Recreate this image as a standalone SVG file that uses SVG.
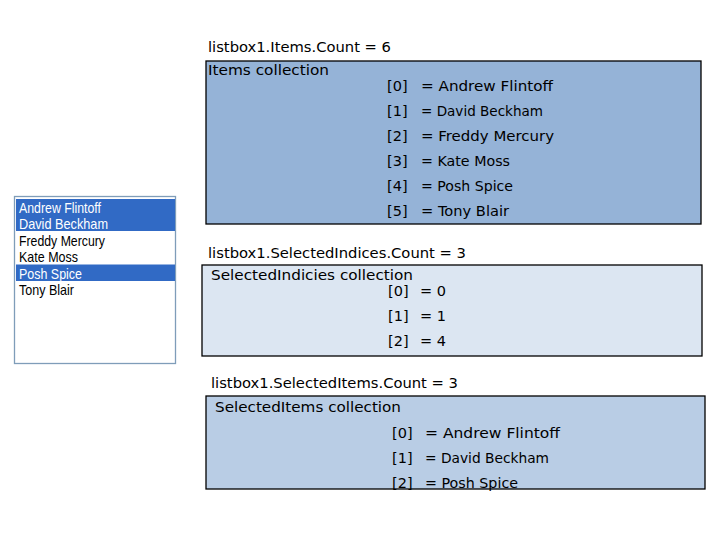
<svg xmlns="http://www.w3.org/2000/svg" width="720" height="540" viewBox="0 0 720 540">
<style>
.t{font-family:"DejaVu Sans","Liberation Sans",sans-serif;font-size:14.5px;fill:#000}
.lb{font-family:"Liberation Sans","DejaVu Sans",sans-serif;font-size:15px;fill:#000}
.sel{fill:#fff}
.box{stroke:#000;stroke-width:1.3}
</style>
<rect width="720" height="540" fill="#fff"/>
<g id="listbox">
<rect x="14.5" y="196.5" width="161" height="167" fill="#fff" stroke="#7F9DB9" stroke-width="1.3"/>
<rect x="16" y="199" width="159" height="32" fill="#316AC5"/>
<rect x="16" y="264.5" width="159" height="16.5" fill="#316AC5"/>
<text class="lb sel" x="19" y="212.5" textLength="82" lengthAdjust="spacingAndGlyphs">Andrew Flintoff</text>
<text class="lb sel" x="19" y="229" textLength="89" lengthAdjust="spacingAndGlyphs">David Beckham</text>
<text class="lb" x="19" y="245.5" textLength="86" lengthAdjust="spacingAndGlyphs">Freddy Mercury</text>
<text class="lb" x="19" y="262" textLength="59" lengthAdjust="spacingAndGlyphs">Kate Moss</text>
<text class="lb sel" x="19" y="278.5" textLength="63" lengthAdjust="spacingAndGlyphs">Posh Spice</text>
<text class="lb" x="19" y="295" textLength="55" lengthAdjust="spacingAndGlyphs">Tony Blair</text>
</g>
<g id="items">
<text class="t" x="208" y="52" textLength="183" lengthAdjust="spacingAndGlyphs">listbox1.Items.Count = 6</text>
<rect class="box" x="206" y="61" width="495" height="163" fill="#95B3D7"/>
<text class="t" x="208" y="75" textLength="121" lengthAdjust="spacingAndGlyphs">Items collection</text>
<text class="t" x="387" y="91">[0]</text><text class="t" x="421" y="91" textLength="132" lengthAdjust="spacingAndGlyphs">= Andrew Flintoff</text>
<text class="t" x="387" y="116">[1]</text><text class="t" x="421" y="116" textLength="122" lengthAdjust="spacingAndGlyphs">= David Beckham</text>
<text class="t" x="387" y="141">[2]</text><text class="t" x="421" y="141" textLength="133" lengthAdjust="spacingAndGlyphs">= Freddy Mercury</text>
<text class="t" x="387" y="166">[3]</text><text class="t" x="421" y="166" textLength="89" lengthAdjust="spacingAndGlyphs">= Kate Moss</text>
<text class="t" x="387" y="191">[4]</text><text class="t" x="421" y="191" textLength="92" lengthAdjust="spacingAndGlyphs">= Posh Spice</text>
<text class="t" x="387" y="216">[5]</text><text class="t" x="421" y="216" textLength="88" lengthAdjust="spacingAndGlyphs">= Tony Blair</text>
</g>
<g id="selectedIndices">
<text class="t" x="208" y="258" textLength="258" lengthAdjust="spacingAndGlyphs">listbox1.SelectedIndices.Count = 3</text>
<rect class="box" x="202" y="265" width="500" height="91" fill="#DCE6F2"/>
<text class="t" x="211" y="280" textLength="202" lengthAdjust="spacingAndGlyphs">SelectedIndicies collection</text>
<text class="t" x="388" y="296">[0]</text><text class="t" x="420" y="296">= 0</text>
<text class="t" x="388" y="321">[1]</text><text class="t" x="420" y="321">= 1</text>
<text class="t" x="388" y="346">[2]</text><text class="t" x="420" y="346">= 4</text>
</g>
<g id="selectedItems">
<text class="t" x="211" y="388" textLength="247" lengthAdjust="spacingAndGlyphs">listbox1.SelectedItems.Count = 3</text>
<rect class="box" x="206" y="396" width="499" height="93" fill="#B9CDE5"/>
<text class="t" x="215" y="412" textLength="186" lengthAdjust="spacingAndGlyphs">SelectedItems collection</text>
<text class="t" x="392" y="438">[0]</text><text class="t" x="425" y="438" textLength="135" lengthAdjust="spacingAndGlyphs">= Andrew Flintoff</text>
<text class="t" x="392" y="463">[1]</text><text class="t" x="425" y="463" textLength="124" lengthAdjust="spacingAndGlyphs">= David Beckham</text>
<text class="t" x="392" y="488">[2]</text><text class="t" x="425" y="488" textLength="93" lengthAdjust="spacingAndGlyphs">= Posh Spice</text>
</g>
</svg>
